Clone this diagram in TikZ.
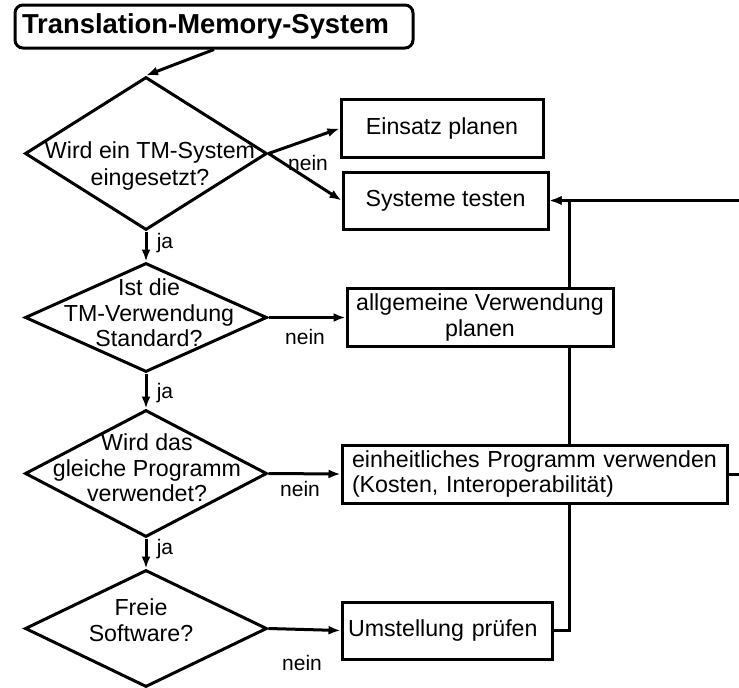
\documentclass[tikz,border=0pt]{standalone}
\usepackage{fontspec}
\setmainfont{Liberation Sans}
\usetikzlibrary{shapes.geometric,arrows.meta}

\begin{document}
\begin{tikzpicture}[x=1pt,y=-1pt,
    line width=3pt,
    >={Latex[length=12pt,width=9pt]},
    every node/.style={font=\fontsize{23.2}{25.5}\selectfont},
    decision/.style={draw,diamond,inner sep=0pt,minimum width=242pt},
    txt/.style={align=center,inner sep=0pt},
    box/.style={draw,rectangle,fill=white,inner sep=0pt,minimum height=58pt},
    lbl/.style={inner sep=0pt,font=\fontsize{21}{23}\selectfont}]
    \useasboundingbox (0,0) rectangle (739,688);

    % Title
    \node[draw, rounded corners=8pt, text width=384pt, inner xsep=7pt, inner ysep=0pt,
          minimum height=43pt, align=left,
          font=\fontsize{27.4}{30}\bfseries\selectfont] (title) at (214,26.5) {Translation-Memory-System};

    % Decisions
    \node[decision, minimum height=153pt] (q1) at (146,153.5) {};
    \node[decision, minimum height=109pt] (q2) at (146,317.5) {};
    \node[decision, minimum height=127pt] (q3) at (146,473.5) {};
    \node[decision, minimum height=117pt] (q4) at (146,628.5) {};

    \node[txt] (q1t) at (150,166) {Wird ein TM-System\\[2pt]eingesetzt?};
    \node[txt] (q2t) at (149,313) {Ist die\\TM-Verwendung\\Standard?};
    \node[txt] (q3t) at (147,468) {Wird das\\gleiche Programm\\verwendet?};
    \node[txt] (q4t) at (141,620) {Freie\\Software?};

    % Actions
    \node[box, minimum width=202pt] (plan) at (442,128.5) {Einsatz planen};
    \node[box, minimum width=205pt, minimum height=57pt] (test) at (445.5,200.5) {Systeme testen};
    \node[box, minimum width=266pt, align=center] (allg) at (480,317.5) {allgemeine Verwendung\\planen};
    \node[box, text width=365pt, inner xsep=10pt, align=left] (einh) at (534.5,474) {einheitliches Programm verwenden\\(Kosten, Interoperabilität)};
    \node[box, text width=198pt, inner xsep=6pt, align=left, minimum height=57pt] (umst) at (447,630.5) {Umstellung prüfen};

    % Labels
    \node[lbl] (n1) at (308,163) {nein};
    \node[lbl] (n2) at (305,337) {nein};
    \node[lbl] (n3) at (300,489) {nein};
    \node[lbl] (n4) at (302,663) {nein};
    \node[lbl] (j1) at (165,243) {ja};
    \node[lbl] (j2) at (165,393) {ja};
    \node[lbl] (j3) at (165,549) {ja};

    % Edges
    \draw[->] (title.south) -- (q1.north);
    \draw[->] (q1.east) -- (plan.west);
    \draw[->] (q1.east) -- (test.west);
    \draw[->] (q1.south) -- (q2.north);
    \draw[->] (q2.south) -- (q3.north);
    \draw[->] (q3.south) -- (q4.north);
    \draw[->] (q2.east) -- (allg.west);
    \draw[->] (q3.east) -- (einh.west);
    \draw[->] (q4.east) -- (umst.west);

    % Back to testing
    \coordinate (bus) at (569,0);
    \draw (umst.east) -- (umst.east -| bus) -- (einh.south -| bus);
    \draw (einh.north -| bus) -- (allg.south -| bus);
    \draw[->] (allg.north -| bus) |- (test.east);
    \draw[->] (einh.east) -- ++(30,0) |- (test.east);
\end{tikzpicture}
\end{document}
